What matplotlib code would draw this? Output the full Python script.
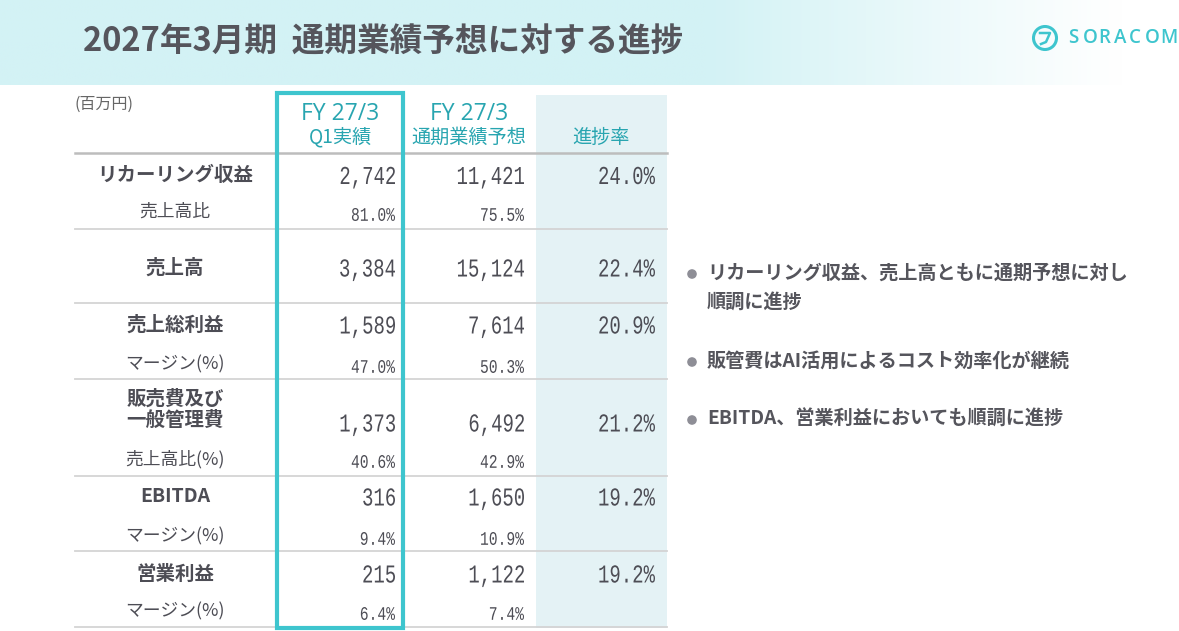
import matplotlib
matplotlib.use('Agg')
import matplotlib.pyplot as plt
import numpy as np
from matplotlib.patches import Rectangle, Circle, PathPatch
from matplotlib.textpath import TextPath
from matplotlib.font_manager import FontProperties
from matplotlib.transforms import Affine2D

JP = ['Noto Sans CJK JP', 'DejaVu Sans']

# データ（百万円）
labels = ['リカーリング収益', '売上高', '売上総利益', '販売費及び\n一般管理費', 'EBITDA', '営業利益']
q1_actual = [2742, 3384, 1589, 1373, 316, 215]
fy_forecast = [11421, 15124, 7614, 6492, 1650, 1122]
progress = [24.0, 22.4, 20.9, 21.2, 19.2, 19.2]
sub_labels = ['売上高比', None, 'マージン(%)', '売上高比(%)', 'マージン(%)', 'マージン(%)']
sub_q1 = [81.0, None, 47.0, 40.6, 9.4, 6.4]
sub_fy = [75.5, None, 50.3, 42.9, 10.9, 7.4]

col_headers = [('FY 27/3', 'Q1実績'), ('FY 27/3', '通期業績予想'), (None, '進捗率')]
bullets = ['リカーリング収益、売上高ともに通期予想に対し\n順調に進捗',
           '販管費はAI活用によるコスト効率化が継続',
           'EBITDA、営業利益においても順調に進捗']

teal = '#3ec5ce'
head_c = '#28a5b0'
txt = '#4d4d55'
line_c = '#d4d4d4'

fig = plt.figure(figsize=(11.79, 6.31), dpi=100)
ax = fig.add_axes([0, 0, 1, 1])
ax.set_xlim(0, 1179)
ax.set_ylim(631, 0)
ax.axis('off')

# 細長い数字（等幅フォントを横に縮める）
num_fp = FontProperties(family='Liberation Mono')
ref0 = TextPath((0, 0), '0', size=100, prop=num_fp).get_extents()
adv = TextPath((0, 0), '00', size=100, prop=num_fp).get_extents().x1 - ref0.x1


def num(x, y, s, h, cell):
    tp = TextPath((0, 0), s, size=100, prop=num_fp)
    bb = tp.get_extents()
    sy = h / ref0.height
    sx = cell / adv
    tr = Affine2D().translate(-bb.x1, -(ref0.y0 + ref0.y1) / 2).scale(sx, -sy).translate(x, y)
    ax.add_patch(PathPatch(tr.transform_path(tp), fc=txt, ec='none', zorder=4))


# ヘッダー帯（グラデーション）
xs = np.linspace(0, 1, 400)
fade = np.clip((xs - 0.6) / 0.35, 0, 1)
base = np.array([211, 242, 245]) / 255
grad = base[None, :] * (1 - fade[:, None]) + fade[:, None]
ax.imshow(grad[None, :, :], extent=[0, 1179, 85, 0], aspect='auto', zorder=0)
ax.text(83, 42, '2027年3月期  通期業績予想に対する進捗', fontsize=23.5, fontweight='bold',
        color='#55555c', va='center', ha='left', family=JP)

# ロゴ
ax.add_patch(Circle((1045, 38), 11.5, fill=False, ec=teal, lw=2.2, zorder=3))
ax.plot([1040, 1050, 1046, 1041], [33, 33, 42, 44], color=teal, lw=1.8, zorder=3)
for i, ch in enumerate('SORACOM'):
    ax.text(1068 + i * 15.3, 38, ch, fontsize=13.5, color=teal, va='center', ha='left',
            family=['Open Sans', 'DejaVu Sans'], fontweight='semibold')

# 表の列位置
x_lab = 175
x_q1, x_fy, x_pr = 395, 524, 655
row_y = [175.5, 268, 325, 423, 497, 574]
sub_y = [212, None, 364, 459, 536, 611]
rules = [229, 303, 379, 476, 551, 627]

# 進捗率列の背景
ax.add_patch(Rectangle((536, 95), 131, 533, fc='#e4f2f5', ec='none', zorder=1))

ax.text(75, 104, '(百万円)', fontsize=11.5, color='#666', va='center', ha='left', family=JP)
head_x = [340, 469, 601]
for hx, (l1, l2) in zip(head_x, col_headers):
    if l1:
        ax.text(hx, 114, l1, fontsize=16.5, color=head_c, ha='center', va='center',
                family=['Open Sans', 'DejaVu Sans'], zorder=4)
    ax.text(hx, 137, l2, fontsize=13.8, color=head_c, ha='center', va='center',
            family=JP, zorder=4)

ax.plot([75, 667], [153, 153], color='#bdbdbd', lw=1.8, zorder=2)
for ry in rules:
    ax.plot([75, 667], [ry, ry], color=line_c, lw=1.3, zorder=2)

for i, lab in enumerate(labels):
    ly = 410 if '\n' in lab else row_y[i]
    ax.text(x_lab, ly, lab, fontsize=14, fontweight='bold', color=txt, ha='center',
            va='center', linespacing=1.15, family=JP, zorder=4)
    num(x_q1, row_y[i], f'{q1_actual[i]:,}', 17.5, 11.4)
    num(x_fy, row_y[i], f'{fy_forecast[i]:,}', 17.5, 11.4)
    num(x_pr, row_y[i], f'{progress[i]:.1f}%', 17.5, 11.4)
    if sub_labels[i]:
        ax.text(x_lab, sub_y[i], sub_labels[i], fontsize=12.8, color=txt, ha='center',
                va='center', family=JP, zorder=4)
        num(x_q1, sub_y[i] + 2.5, f'{sub_q1[i]:.1f}%', 13, 8.8)
        num(x_fy, sub_y[i] + 2.5, f'{sub_fy[i]:.1f}%', 13, 8.8)

# Q1実績の枠
ax.add_patch(Rectangle((277, 93), 126, 535, fill=False, ec=teal, lw=3, zorder=5))

# コメント
by = [274, 362, 420]
for b, y in zip(bullets, by):
    ax.add_patch(Circle((692, y), 4.8, fc='#8e8e96', ec='none', zorder=3))
    ax.text(707, y - 10.5, b, fontsize=13.8, fontweight='bold', color='#55555c', ha='left',
            va='top', linespacing=1.7, family=JP)

fig.savefig('out.png', dpi=100)
